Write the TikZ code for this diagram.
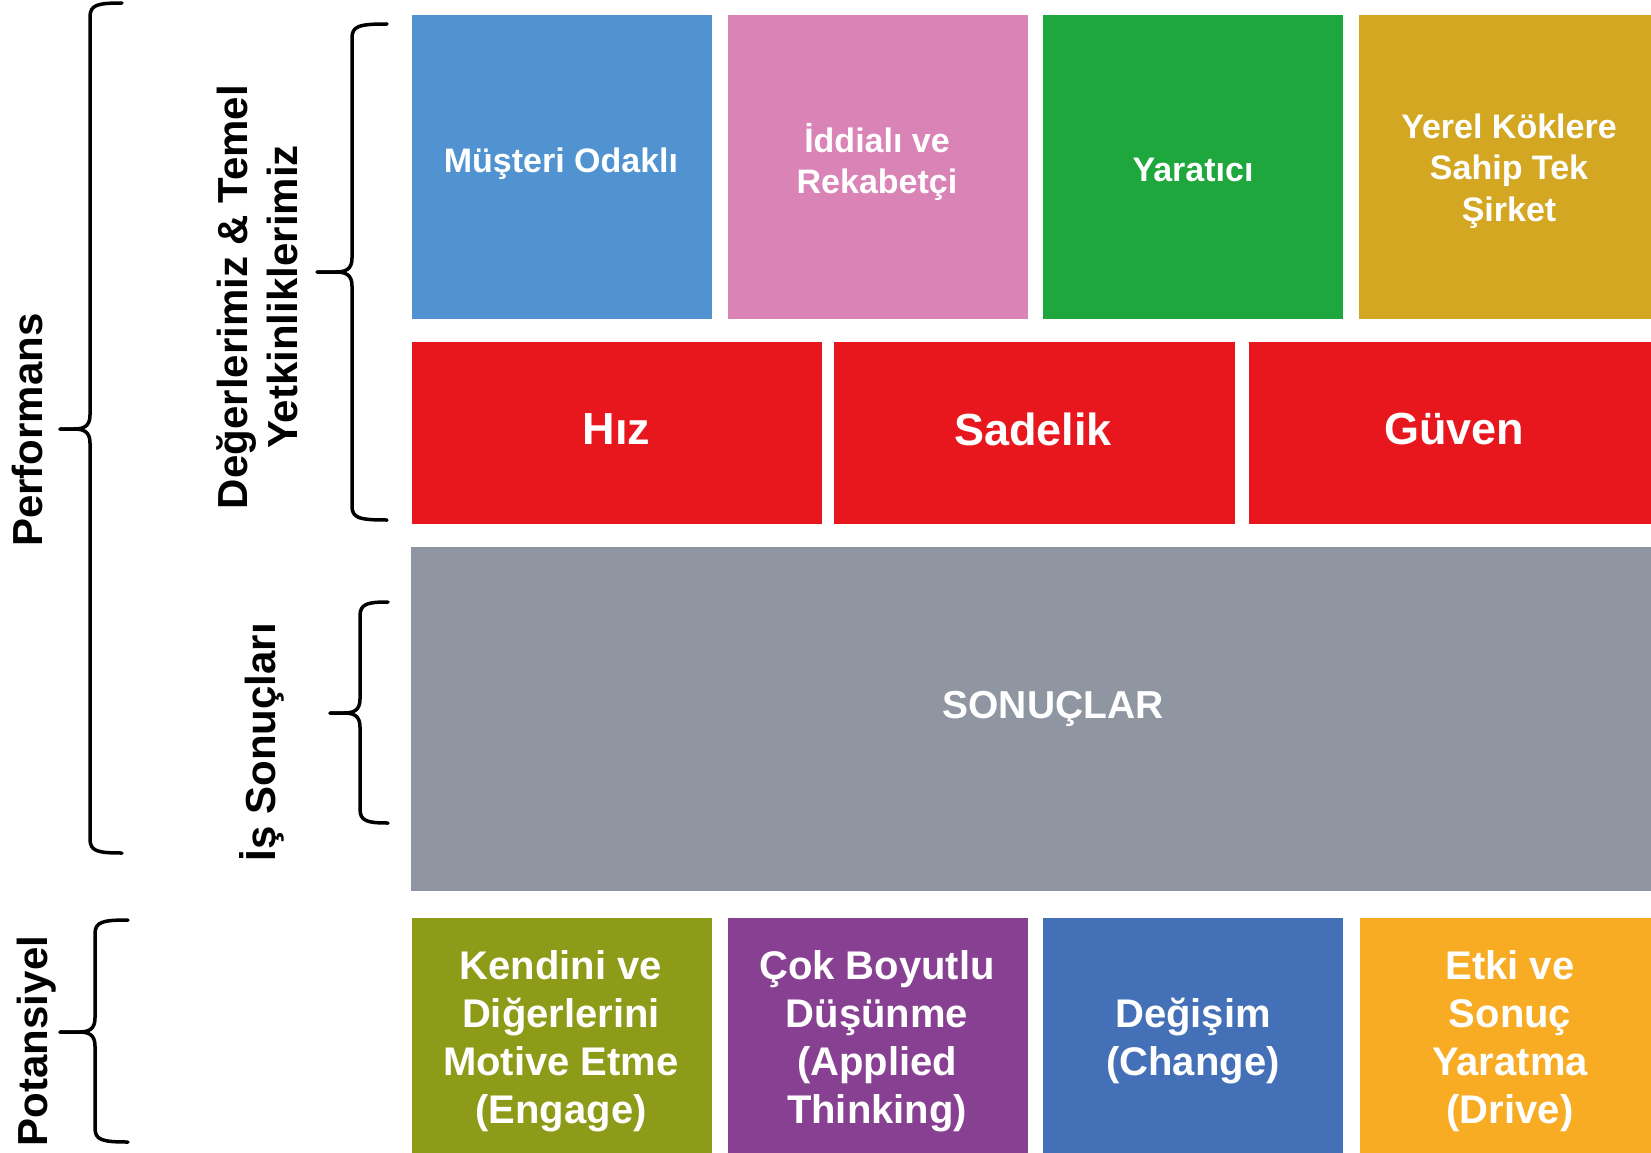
\documentclass[tikz,border=0pt]{standalone}
\usepackage{fontspec}
\setmainfont{Liberation Sans}

% tile colours
\definecolor{cBlue}{HTML}{5193D1}
\definecolor{cPink}{HTML}{DA83B6}
\definecolor{cGreen}{HTML}{1EA73C}
\definecolor{cGold}{HTML}{D3A721}
\definecolor{cRed}{HTML}{E8161D}
\definecolor{cGray}{HTML}{9096A1}
\definecolor{cOlive}{HTML}{8D9B18}
\definecolor{cPurple}{HTML}{884092}
\definecolor{cBlueTwo}{HTML}{4370B7}
\definecolor{cOrange}{HTML}{F8AC24}

% curly brace: #1 spine x, #2 arm end x, #3 tip x, #4 top y, #5 tip y, #6 bottom y
\newcommand\curlybrace[6]{%
  \draw[bracestroke] (#2,#4) .. controls (#1+7,#4) and (#1,#4+2) .. (#1,#4+14)
    -- (#1,#5-14) .. controls (#1,#5-3) and (#1-6,#5) .. (#1-16,#5) -- (#3,#5);
  \draw[bracestroke] (#3,#5) -- (#1-16,#5) .. controls (#1-6,#5) and (#1,#5+3) .. (#1,#5+14)
    -- (#1,#6-14) .. controls (#1,#6-2) and (#1+7,#6) .. (#2,#6);
}

\begin{document}
\begin{tikzpicture}[x=1pt,y=-1pt,
  tile/.style={rectangle, draw=none, inner sep=0pt, outer sep=0pt, anchor=north west},
  toptxt/.style={text=white, align=center, inner sep=0pt, font=\bfseries\fontsize{34}{41.5}\selectfont},
  redtxt/.style={text=white, align=center, inner sep=0pt, font=\bfseries\fontsize{45}{54}\selectfont},
  midtxt/.style={text=white, align=center, inner sep=0pt, font=\bfseries\fontsize{39}{47}\selectfont},
  bottxt/.style={text=white, align=center, inner sep=0pt, font=\bfseries\fontsize{40}{48}\selectfont},
  sidetxt/.style={text=black, align=center, inner sep=0pt, rotate=90, font=\bfseries\fontsize{42}{50}\selectfont},
  bracestroke/.style={draw=black, line width=3.5pt, line cap=round, line join=round}]

\clip (0,0) rectangle (1651,1153);

% values row
\node[tile, fill=cBlue,  minimum width=300, minimum height=304] (musteri) at (412,15) {};
\node[tile, fill=cPink,  minimum width=300, minimum height=304] (iddiali) at (727.5,15) {};
\node[tile, fill=cGreen, minimum width=300, minimum height=304] (yaratici) at (1043,15) {};
\node[tile, fill=cGold,  minimum width=300, minimum height=304] (yerel) at (1359,15) {};
\node[toptxt] (musteriT) at (561,164) {Müşteri Odaklı};
\node[toptxt] (iddialiT) at (877,162) {İddialı ve\\Rekabetçi};
\node[toptxt] (yaraticiT) at (1193,170) {Yaratıcı};
\node[toptxt] (yerelT) at (1509,171) {Yerel Köklere\\Sahip Tek\\Şirket};

% core competencies row
\node[tile, fill=cRed, minimum width=409.5, minimum height=182] (hiz) at (412,342) {};
\node[tile, fill=cRed, minimum width=401,   minimum height=182] (sadelik) at (834,342) {};
\node[tile, fill=cRed, minimum width=410,   minimum height=182] (guven) at (1249,342) {};
\node[redtxt] (hizT) at (616.5,429) {Hız};
\node[redtxt] (sadelikT) at (1033,429) {Sadelik};
\node[redtxt] (guvenT) at (1454,429) {Güven};

% business results
\node[tile, fill=cGray, minimum width=1250, minimum height=344.5] (sonuc) at (411,546.5) {};
\node[midtxt] (sonucT) at (1053,709) {SONUÇLAR};

% potential row
\node[tile, fill=cOlive,   minimum width=300, minimum height=240] (engage) at (412,918) {};
\node[tile, fill=cPurple,  minimum width=300, minimum height=240] (applied) at (727.5,918) {};
\node[tile, fill=cBlueTwo, minimum width=300, minimum height=240] (change) at (1043,918) {};
\node[tile, fill=cOrange,  minimum width=300, minimum height=240] (drive) at (1360,918) {};
\node[bottxt] (engageT) at (561,1041) {Kendini ve\\Diğerlerini\\Motive Etme\\(Engage)};
\node[bottxt] (appliedT) at (877,1041) {Çok Boyutlu\\Düşünme\\(Applied\\Thinking)};
\node[bottxt] (changeT) at (1193,1041) {Değişim\\(Change)};
\node[bottxt] (driveT) at (1510,1041) {Etki ve\\Sonuç\\Yaratma\\(Drive)};

% side labels
\node[sidetxt] (perf) at (27,430) {Performans};
\node[sidetxt] (degerler) at (257,297) {Değerlerimiz \& Temel\\Yetkinliklerimiz};
\node[sidetxt] (is) at (262,742) {İş Sonuçları};
\node[sidetxt] (potansiyel) at (37,1041) {Potansiyel};

% braces
\curlybrace{90}{122}{60}{3}{429}{853}
\curlybrace{352}{387}{317}{24}{272}{520}
\curlybrace{360}{388}{330}{602}{713}{823}
\curlybrace{95}{128}{60}{920}{1032}{1142}

\end{tikzpicture}
\end{document}
